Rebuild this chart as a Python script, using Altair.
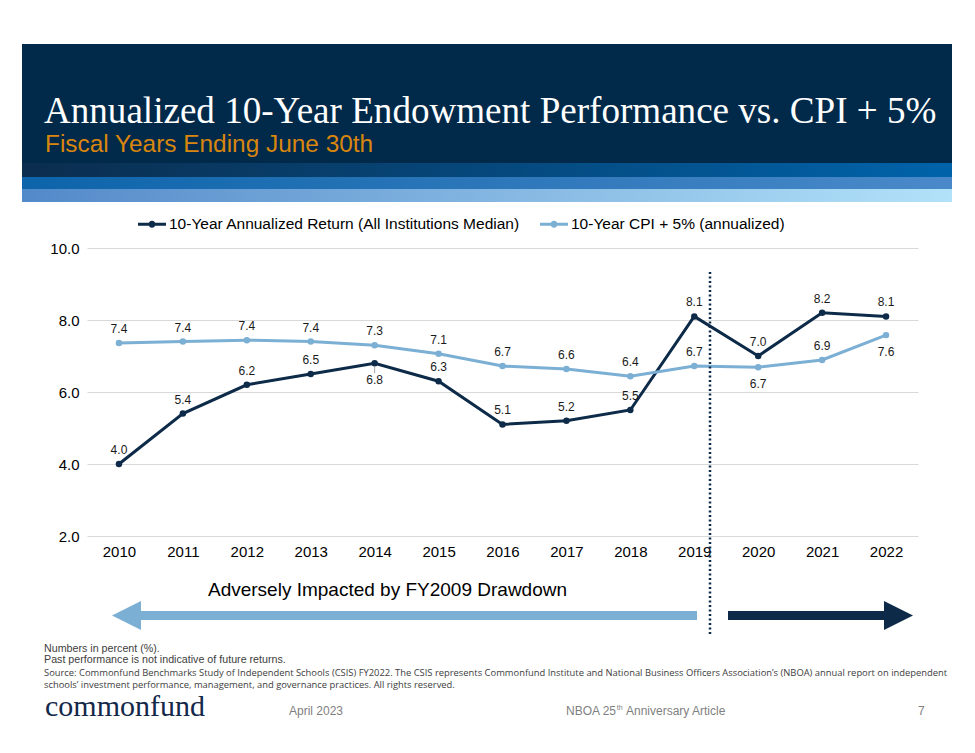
import altair as alt
import pandas as pd

# ---------------- data ----------------
years = list(range(2010, 2023))
endow = [4.0, 5.4, 6.2, 6.5, 6.8, 6.3, 5.1, 5.2, 5.5, 8.1, 7.0, 8.2, 8.1]
cpi5 = [7.36, 7.40, 7.44, 7.40, 7.30, 7.06, 6.72, 6.64, 6.44, 6.72, 6.69, 6.89, 7.58]
SER_E = "10-Year Annualized Return (All Institutions Median)"
SER_C = "10-Year CPI + 5% (annualized)"
below_endow = [2014]
below_cpi = [2020, 2022]
y_ticks = [2, 4, 6, 8, 10]

rows = []
for y, v in zip(years, endow):
    rows.append({"year": y, "series": SER_E, "value": v,
                 "pos": "below" if y in below_endow else "above", "lead": y in below_endow})
for y, v in zip(years, cpi5):
    rows.append({"year": y, "series": SER_C, "value": v,
                 "pos": "below" if y in below_cpi else "above", "lead": False})
df = pd.DataFrame(rows)

DARK = "#0D2B48"
LIGHT = "#7BAFD4"
NAVY = "#012A4A"
SANS = "Liberation Sans"
SERIF = "Liberation Serif"

LEG_PATH = ("M-1,-0.11 L1,-0.11 L1,0.11 L-1,0.11 Z "
            "M0.25,0 A0.25,0.25 0 1,1 -0.25,0 A0.25,0.25 0 1,1 0.25,0 Z")

legend = alt.Legend(
    orient="none", legendX=51, legendY=-38, direction="horizontal", columns=2,
    title=None, symbolType=LEG_PATH, symbolSize=784, symbolStrokeWidth=0,
    labelFont=SANS, labelFontSize=15.5, labelColor="#000", labelOffset=3,
    columnPadding=20, labelLimit=600)

xenc = alt.X("year:O", scale=alt.Scale(type="point", padding=0.5),
             axis=alt.Axis(title=None, labelAngle=0, domain=False, ticks=False, grid=False,
                           labelFont=SANS, labelFontSize=15, labelColor="#000", labelPadding=8))
yenc = alt.Y("value:Q", scale=alt.Scale(domain=[2, 10], nice=False, zero=False),
             axis=alt.Axis(title=None, values=y_ticks, format=".1f", domain=False, ticks=False,
                           grid=True, gridColor="#D9D9D9", gridWidth=1,
                           labelFont=SANS, labelFontSize=15, labelColor="#000", labelPadding=8))
cscale = alt.Scale(domain=[SER_E, SER_C], range=[DARK, LIGHT])

base = alt.Chart(df)

lines = base.mark_line(strokeWidth=3).encode(
    x=xenc, y=yenc,
    color=alt.Color("series:N", scale=cscale, legend=legend),
    order=alt.Order("year:O"),
)
points = base.mark_circle(size=42, opacity=1).encode(
    x="year:O", y="value:Q",
    color=alt.Color("series:N", scale=cscale, legend=legend),
)
lab_above = base.transform_filter(alt.datum.pos == "above").mark_text(
    dy=-14, font=SANS, fontSize=12, color="#1A1A1A", baseline="middle").encode(
    x="year:O", y="value:Q", text=alt.Text("value:Q", format=".1f"))
lab_below = base.transform_filter(alt.datum.pos == "below").mark_text(
    dy=17, font=SANS, fontSize=12, color="#1A1A1A", baseline="middle").encode(
    x="year:O", y="value:Q", text=alt.Text("value:Q", format=".1f"))
leader = base.transform_filter(alt.datum.lead == True).mark_rule(
    color="#A6A6A6", strokeWidth=1, yOffset=3, y2Offset=10).encode(
    x="year:O", y="value:Q", y2="value:Q")

# ---------------- decorations (pixel space relative to plot origin) ----------------
one = pd.DataFrame({"k": [0]})


def rect(x1, x2, y1, y2, fill):
    return alt.Chart(one).mark_rect(color=fill).encode(
        x=alt.value(x1), x2=alt.value(x2), y=alt.value(y1), y2=alt.value(y2))


def grad(c1, c2):
    return alt.LinearGradient(gradient="linear", x1=0, x2=1, y1=0, y2=0,
                              stops=[alt.GradientStop(color=c1, offset=0),
                                     alt.GradientStop(color=c2, offset=1)])


def text(s, x, y, size, color, font=SANS, align="left"):
    return alt.Chart(one).mark_text(text=s, align=align, baseline="alphabetic", font=font,
                                    fontSize=size, color=color).encode(
        x=alt.value(x), y=alt.value(y))


header = rect(-65, 865, -204, -85, NAVY)
band1 = rect(-65, 865, -85, -71, grad("#0B2D4E", "#0063AA"))
band2 = rect(-65, 865, -71, -59, grad("#0D64AA", "#4A89C9"))
band3 = rect(-65, 865, -59, -46, grad("#5389C9", "#B2E2F9"))

title = text("Annualized 10-Year Endowment Performance vs. CPI + 5%", -43, -125, 37.1, "#FFFFFF", font=SERIF)
subtitle = text("Fiscal Years Ending June 30th", -42, -96, 24.4, "#D9860F")

divider = alt.Chart(one).mark_rule(color=DARK, strokeWidth=2.5, strokeDash=[2, 2.5]).encode(
    x=alt.value(623), y=alt.value(24), y2=alt.value(386))

shaft_l = rect(51, 610, 363, 372, LIGHT)
head_l = alt.Chart(one).mark_point(shape="M-1,0 L1,-1 L1,1 Z", size=841, filled=True,
                                   opacity=1, color=LIGHT, strokeWidth=0).encode(
    x=alt.value(39.5), y=alt.value(367.5))
shaft_r = rect(641, 798, 363, 372, DARK)
head_r = alt.Chart(one).mark_point(shape="M1,0 L-1,-1 L-1,1 Z", size=841, filled=True,
                                   opacity=1, color=DARK, strokeWidth=0).encode(
    x=alt.value(811.5), y=alt.value(367.5))
adverse = text("Adversely Impacted by FY2009 Drawdown", 300.5, 348, 19, "#000", align="center")

FOOT = "#404040"
fn1 = text("Numbers in percent (%).", -43, 404, 10.7, FOOT)
fn2 = text("Past performance is not indicative of future returns.", -43, 415, 10.7, FOOT)
fn3 = text("Source: Commonfund Benchmarks Study of Independent Schools (CSIS) FY2022. The CSIS represents "
           "Commonfund Institute and National Business Officers Association\u2019s (NBOA) annual report on independent",
           -43, 428, 9.4, FOOT, font="Open Sans")
fn4 = text("schools\u2019 investment performance, management, and governance practices. All rights reserved.",
           -43, 440, 9.4, FOOT, font="Open Sans")

logo = text("commonfund", -42, 468, 30, "#14284A", font=SERIF)
april = text("April 2023", 202, 467, 12, "#7F7F7F")
nboa1 = text("NBOA 25", 479, 467, 12, "#7F7F7F")
nboa2 = text("th", 529.7, 462, 7, "#7F7F7F")
nboa3 = text("Anniversary Article", 539, 467, 12, "#7F7F7F")
page = text("7", 831, 467, 12, "#7F7F7F")

chart = alt.layer(
    header, band1, band2, band3, title, subtitle,
    lines, points, leader, lab_above, lab_below,
    divider, shaft_l, head_l, shaft_r, head_r, adverse,
    fn1, fn2, fn3, fn4, logo, april, nboa1, nboa2, nboa3, page,
).properties(
    width=831, height=288,
    autosize=alt.AutoSizeParams(type="none"),
    padding={"left": 79, "top": 240, "right": 49, "bottom": 205},
    background="#FFFFFF",
).configure_view(stroke=None)

chart.save("out.html", embed_options={"renderer": "svg", "actions": False})
